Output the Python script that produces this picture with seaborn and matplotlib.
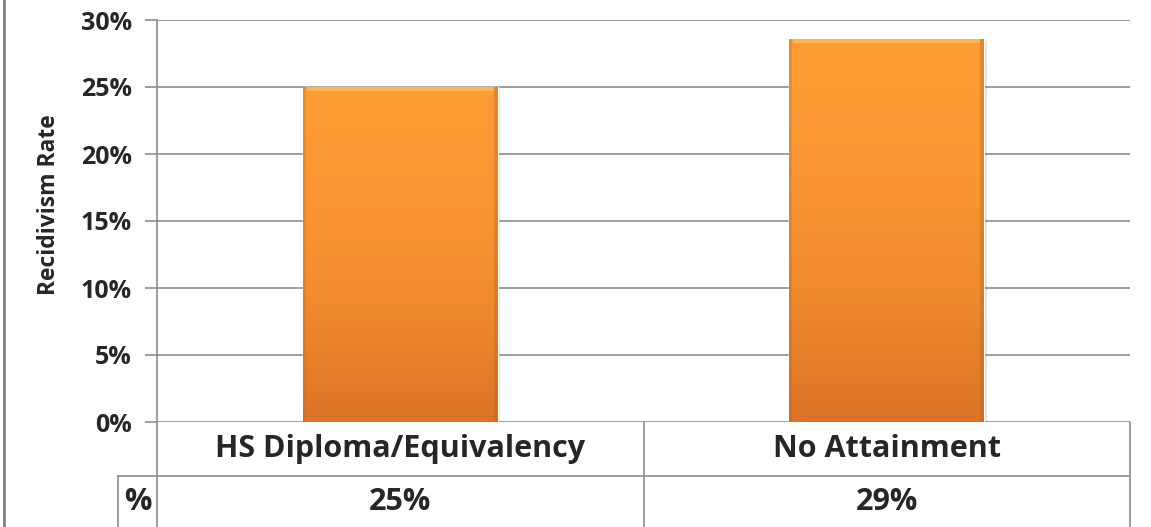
import matplotlib
matplotlib.use('Agg')
import matplotlib.pyplot as plt
import seaborn as sns
import pandas as pd
import numpy as np
from matplotlib.colors import LinearSegmentedColormap
from matplotlib.transforms import blended_transform_factory

categories = ['HS Diploma/Equivalency', 'No Attainment']
rates = [0.25, 0.286]
table_labels = ['25%', '29%']
yticks = [0, 0.05, 0.10, 0.15, 0.20, 0.25, 0.30]
ytick_labels = ['0%', '5%', '10%', '15%', '20%', '25%', '30%']

df = pd.DataFrame({'category': categories, 'rate': rates})

sns.set_style('white')
plt.rcParams['font.family'] = ['Open Sans', 'DejaVu Sans']
plt.rcParams['font.weight'] = 'bold'

grid_col = '#8c8c8c'
fig = plt.figure(figsize=(11.51, 5.27), dpi=100)
ax = fig.add_axes([157 / 1151, 105 / 527, 973 / 1151, 402 / 527])

sns.barplot(data=df, x='category', y='rate', color='#f7922e', width=0.4,
            saturation=1, ax=ax, zorder=3)

# gradient fill clipped to each bar
cmap = LinearSegmentedColormap.from_list('orng', ['#dc7326', '#f08a2e', '#fb9732', '#fd9c35'])
grad = np.linspace(0, 1, 256).reshape(-1, 1)
for p in ax.patches:
    x0, y0 = p.get_x(), p.get_y()
    w, h = p.get_width(), p.get_height()
    # soft shadow
    ax.add_patch(plt.Rectangle((x0 + 0.006, y0), w, h - 0.0015, color='#000000',
                               alpha=0.12, zorder=2, lw=0))
    im = ax.imshow(grad, extent=(x0, x0 + w, y0, y0 + h), origin='lower',
                   cmap=cmap, aspect='auto', zorder=4)
    im.set_clip_path(p)
    # bevel highlight on top edge
    ax.add_patch(plt.Rectangle((x0 + 0.008, y0 + h - 0.0032), w - 0.016, 0.0032,
                               color='#ffbf55', alpha=0.8, zorder=5, lw=0))
    ax.add_patch(plt.Rectangle((x0 + w - 0.008, y0), 0.008, h, color='#b85f1c',
                               alpha=0.35, zorder=5, lw=0))
    ax.add_patch(plt.Rectangle((x0, y0), 0.006, h, color='#b85f1c',
                               alpha=0.25, zorder=5, lw=0))

ax.set_xlim(-0.5, 1.5)
ax.set_ylim(0, 0.30)
ax.set_yticks(yticks)
ax.set_yticklabels(ytick_labels, fontsize=18, fontweight='bold')
ax.set_xticks([])
ax.set_xlabel('')
ax.set_ylabel('Recidivism Rate', fontsize=16.5, fontweight='bold')
ax.yaxis.set_label_coords(-0.099, 0.54)
ax.yaxis.grid(True, color=grid_col, lw=1.2, zorder=0)
ax.tick_params(axis='y', length=9, width=1.2, color=grid_col, left=True, pad=9)
for s in ['top', 'right', 'bottom']:
    ax.spines[s].set_visible(False)
ax.spines['left'].set_color(grid_col)
ax.spines['left'].set_linewidth(1.2)

# data table below the plot
tr = blended_transform_factory(ax.transData, ax.transAxes)
row1 = -54 / 402
row2 = -110 / 402
kw = dict(color=grid_col, lw=1.2, clip_on=False, transform=ax.transAxes)
ax.plot([0, 0], [0, row2], **kw)
ax.plot([1, 1], [0, row2], **kw)
ax.plot([0.5, 0.5], [0, row2], **kw)
ax.plot([-39 / 973, 1], [row1, row1], **kw)
ax.plot([-39 / 973, -39 / 973], [row1, row2], **kw)

for i, (c, v) in enumerate(zip(categories, table_labels)):
    ax.text(i, row1 / 2, c, transform=tr, ha='center', va='center',
            fontsize=22, fontweight='bold')
    ax.text(i, (row1 + row2) / 2 + 0.005, v, transform=tr, ha='center', va='center',
            fontsize=22, fontweight='bold')
ax.text(-19.5 / 973, (row1 + row2) / 2 + 0.005, '%', transform=ax.transAxes,
        ha='center', va='center', fontsize=22, fontweight='bold')

# outer chart border on the left
fig.add_artist(plt.Line2D([3.5 / 1151, 3.5 / 1151], [0, 1], color='#808080', lw=2))

fig.savefig('out.png', dpi=100)
